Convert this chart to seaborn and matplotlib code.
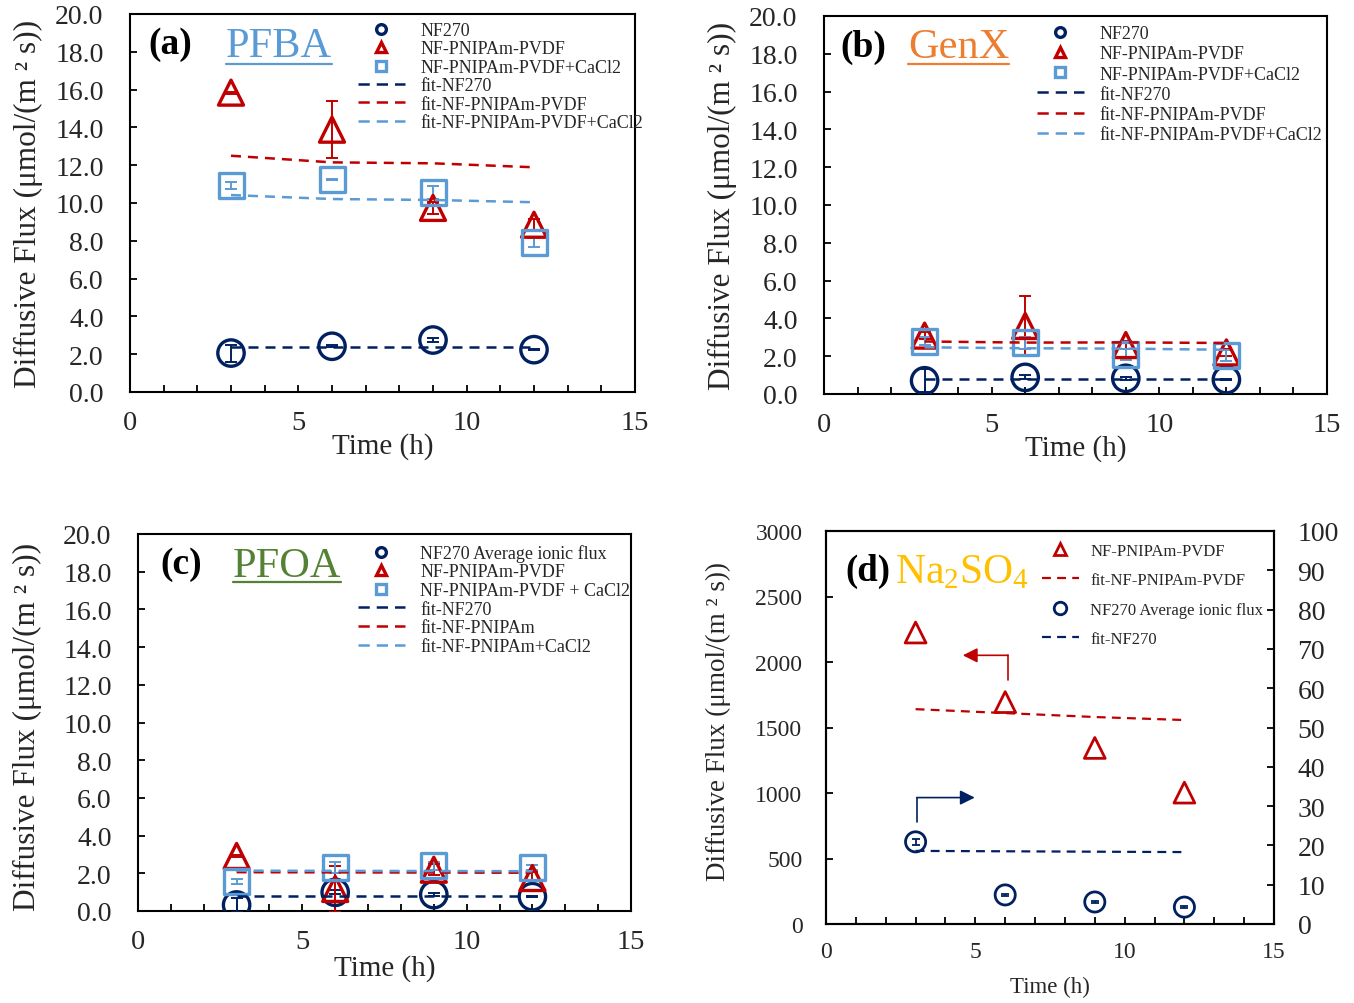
import numpy as np
import pandas as pd
import matplotlib
matplotlib.use("Agg")
import matplotlib.pyplot as plt
import seaborn as sns
from matplotlib.lines import Line2D
from matplotlib.ticker import MultipleLocator, FormatStrFormatter

sns.set_theme(style="white")
plt.rcParams["font.family"] = ["Liberation Serif", "DejaVu Serif"]
plt.rcParams["mathtext.fontset"] = "custom"
plt.rcParams["mathtext.rm"] = "Liberation Serif"
plt.rcParams["mathtext.it"] = "Liberation Serif:italic"
plt.rcParams["mathtext.bf"] = "Liberation Serif:bold"

# ---------------- data ----------------
time = [3, 6, 9, 12]

a_nf270 = [2.06, 2.42, 2.75, 2.24]
a_nf270_err = [0.45, 0.05, 0.10, 0.03]
a_pni = [15.84, 13.88, 9.74, 8.85]
a_pni_err = [0.05, 1.52, 0.30, 0.30]
a_ca = [10.92, 11.23, 10.56, 7.90]
a_ca_err = [0.18, 0.03, 0.35, 0.25]
a_fit_nf270 = [2.36, 2.36, 2.36, 2.36]
a_fit_pni = [12.50, 12.15, 12.10, 11.89]
a_fit_ca = [10.42, 10.21, 10.16, 10.04]

b_nf270 = [0.70, 0.88, 0.83, 0.76]
b_nf270_err = [0.60, 0.10, 0.08, 0.03]
b_pni = [3.09, 3.60, 2.59, 2.20]
b_pni_err = [0.20, 1.57, 0.20, 0.20]
b_ca = [2.79, 2.70, 2.10, 2.03]
b_ca_err = [0.20, 0.30, 0.30, 0.30]
b_fit_nf270 = [0.79, 0.79, 0.79, 0.79]
b_fit_pni = [2.78, 2.72, 2.73, 2.70]
b_fit_ca = [2.47, 2.42, 2.40, 2.34]

c_nf270 = [0.32, 0.99, 0.87, 0.76]
c_nf270_err = [0.35, 0.10, 0.08, 0.03]
c_pni = [2.92, 1.17, 2.19, 1.75]
c_pni_err = [0.05, 1.20, 0.30, 0.30]
c_ca = [1.56, 2.30, 2.39, 2.30]
c_ca_err = [0.15, 0.30, 0.20, 0.15]
c_fit_nf270 = [0.81, 0.81, 0.81, 0.81]
c_fit_pni = [2.06, 2.05, 2.04, 2.03]
c_fit_ca = [2.14, 2.13, 2.12, 2.11]

d_pni = [2225, 1694, 1344, 1003]
d_fit_pni = [1640, 1610, 1580, 1557]
d_nf270 = [20.9, 7.4, 5.6, 4.3]
d_nf270_err = [0.8, 0.3, 0.3, 0.3]
d_fit_nf270 = [18.6, 18.5, 18.4, 18.3]

labels_ab = ["NF270", "NF-PNIPAm-PVDF", "NF-PNIPAm-PVDF+CaCl2",
             "fit-NF270", "fit-NF-PNIPAm-PVDF", "fit-NF-PNIPAm-PVDF+CaCl2"]
labels_c = ["NF270 Average ionic flux", "NF-PNIPAm-PVDF", "NF-PNIPAm-PVDF + CaCl2",
            "fit-NF270", "fit-NF-PNIPAm", "fit-NF-PNIPAm+CaCl2"]
labels_d = ["NF-PNIPAm-PVDF", "fit-NF-PNIPAm-PVDF", "NF270 Average ionic flux", "fit-NF270"]

xticks = [0, 5, 10, 15]
yticks_abc = [0, 2, 4, 6, 8, 10, 12, 14, 16, 18, 20]
yticks_d_left = [0, 500, 1000, 1500, 2000, 2500, 3000]
yticks_d_right = [0, 10, 20, 30, 40, 50, 60, 70, 80, 90, 100]

NAVY = "#002060"
RED = "#C00000"
LBLUE = "#5B9BD5"

W, H = 1354, 1004
fig = plt.figure(figsize=(W / 100, H / 100), dpi=100)


def rect(l, r, t, b):
    return [l / W, 1 - b / H, (r - l) / W, (b - t) / H]


FIT_DASH = (0, (4, 2.8))
LEG_DASH = (0, (4.5, 2.8))


def style_axes(ax, xpad, ypad, xfs, yfs):
    ax.set_xlim(0, 15)
    ax.set_xticks(xticks)
    ax.xaxis.set_minor_locator(MultipleLocator(1))
    ax.tick_params(axis="both", which="both", direction="in", length=5, width=1.3,
                   color="black", bottom=True, left=True, top=False, right=False)
    ax.tick_params(axis="x", which="major", pad=xpad, labelsize=xfs)
    ax.tick_params(axis="y", which="major", pad=ypad, labelsize=yfs)
    for s in ax.spines.values():
        s.set_color("black")
        s.set_linewidth(1.5)
    ax.grid(False)


def panel(ax, nf, nfe, pni, pnie, ca, cae, fnf, fpni, fca, labels, leg_left, leg_top, lspace):
    series = [(nf, nfe, "o", NAVY, 19), (pni, pnie, "^", RED, 18), (ca, cae, "s", LBLUE, 18)]
    for vals, err, mk, col, ms in series:
        ax.errorbar(time, vals, yerr=err, fmt="none", ecolor=col, elinewidth=1.4,
                    capsize=4, capthick=1.4, zorder=3)
        df = pd.DataFrame({"t": time, "v": vals})
        sns.scatterplot(data=df, x="t", y="v", marker=mk, s=ms ** 2, facecolor="none",
                        edgecolor=col, linewidth=2.4, ax=ax, zorder=4, legend=False)
    for vals, col in [(fnf, NAVY), (fpni, RED), (fca, LBLUE)]:
        df = pd.DataFrame({"t": time, "v": vals})
        sns.lineplot(data=df, x="t", y="v", color=col, linewidth=1.8, linestyle=FIT_DASH,
                     ax=ax, zorder=5)
    ax.set_ylim(0, 20)
    ax.set_yticks(yticks_abc)
    ax.yaxis.set_major_formatter(FormatStrFormatter("%.1f"))
    style_axes(ax, 13, 19, 20.5, 20)
    ax.set_xlabel("Time (h)", fontsize=21)
    ax.set_ylabel("Diffusive Flux (μmol/(m ² s))", fontsize=22.5)
    handles = [
        Line2D([], [], ls="none", marker="o", ms=7, mfc="none", mec=NAVY, mew=2.4),
        Line2D([], [], ls="none", marker="^", ms=7, mfc="none", mec=RED, mew=2.4),
        Line2D([], [], ls="none", marker="s", ms=7, mfc="none", mec=LBLUE, mew=2.4),
        Line2D([], [], color=NAVY, lw=1.8, ls=LEG_DASH),
        Line2D([], [], color=RED, lw=1.8, ls=LEG_DASH),
        Line2D([], [], color=LBLUE, lw=1.8, ls=LEG_DASH),
    ]
    ax.legend(handles, labels, loc="upper left", bbox_to_anchor=(leg_left / W, 1 - leg_top / H),
              bbox_transform=fig.transFigure, frameon=False, fontsize=13, borderpad=0,
              borderaxespad=0, handlelength=2.6, handletextpad=0.85, labelspacing=lspace)


# ---- (a)
ax_a = fig.add_axes(rect(130, 635, 15, 393))
panel(ax_a, a_nf270, a_nf270_err, a_pni, a_pni_err, a_ca, a_ca_err,
      a_fit_nf270, a_fit_pni, a_fit_ca, labels_ab, 358, 23, 0.08)
ax_a.xaxis.set_label_coords(0.5, -0.106)
ax_a.yaxis.set_label_coords(-0.172, 0.5)

# ---- (b)
ax_b = fig.add_axes(rect(824, 1327, 17, 395))
panel(ax_b, b_nf270, b_nf270_err, b_pni, b_pni_err, b_ca, b_ca_err,
      b_fit_nf270, b_fit_pni, b_fit_ca, labels_ab, 1037, 26, 0.18)
ax_b.xaxis.set_label_coords(0.5, -0.106)
ax_b.yaxis.set_label_coords(-0.173, 0.5)

# ---- (c)
ax_c = fig.add_axes(rect(138, 631, 535, 912))
panel(ax_c, c_nf270, c_nf270_err, c_pni, c_pni_err, c_ca, c_ca_err,
      c_fit_nf270, c_fit_pni, c_fit_ca, labels_c, 358, 545, 0.09)
ax_c.xaxis.set_label_coords(0.5, -0.114)
ax_c.yaxis.set_label_coords(-0.195, 0.49)

# ---- (d)
ax_d = fig.add_axes(rect(826, 1274, 532, 925))
ax_d2 = ax_d.twinx()
df = pd.DataFrame({"t": time, "v": d_pni})
sns.scatterplot(data=df, x="t", y="v", marker="^", s=15 ** 2, facecolor="none",
                edgecolor=RED, linewidth=2.0, ax=ax_d, zorder=4, legend=False)
df = pd.DataFrame({"t": time, "v": d_fit_pni})
sns.lineplot(data=df, x="t", y="v", color=RED, linewidth=1.6, linestyle=FIT_DASH, ax=ax_d)
ax_d2.errorbar(time, d_nf270, yerr=d_nf270_err, fmt="none", ecolor=NAVY, elinewidth=1.3,
               capsize=3, capthick=1.3, zorder=3)
df = pd.DataFrame({"t": time, "v": d_nf270})
sns.scatterplot(data=df, x="t", y="v", marker="o", s=14.5 ** 2, facecolor="none",
                edgecolor=NAVY, linewidth=2.0, ax=ax_d2, zorder=4, legend=False)
df = pd.DataFrame({"t": time, "v": d_fit_nf270})
sns.lineplot(data=df, x="t", y="v", color=NAVY, linewidth=1.6, linestyle=FIT_DASH, ax=ax_d2)

ax_d.set_ylim(0, 3000)
ax_d.set_yticks(yticks_d_left)
ax_d2.set_ylim(0, 100)
ax_d2.set_yticks(yticks_d_right)
style_axes(ax_d, 12, 17, 17, 17)
ax_d2.tick_params(axis="y", which="both", direction="in", length=5, width=1.3,
                  right=True, left=False, pad=17, labelsize=20, color="black")
ax_d2.set_ylabel("")
ax_d2.grid(False)
for s in ax_d2.spines.values():
    s.set_color("black")
    s.set_linewidth(1.5)
ax_d.set_xlabel("Time (h)", fontsize=16.5)
ax_d.set_ylabel("Diffusive Flux (μmol/(m ² s))", fontsize=19.5)
ax_d.xaxis.set_label_coords(0.5, -0.132)
ax_d.yaxis.set_label_coords(-0.212, 0.517)

# arrows in (d)
red_arrow = [(6.09, 1861), (6.09, 2051), (4.58, 2051)]
blue_arrow = [(3.04, 775), (3.04, 965), (4.98, 965)]
for pts, col in [(red_arrow, RED), (blue_arrow, NAVY)]:
    ax_d.plot([pts[0][0], pts[1][0]], [pts[0][1], pts[1][1]], color=col, lw=1.2)
    ax_d.annotate("", xy=pts[2], xytext=pts[1],
                  arrowprops=dict(arrowstyle="-|>", color=col, lw=1.2, mutation_scale=22,
                                  shrinkA=0, shrinkB=0))

handles_d = [
    Line2D([], [], ls="none", marker="^", ms=9, mfc="none", mec=RED, mew=2.0),
    Line2D([], [], color=RED, lw=1.6, ls=FIT_DASH),
    Line2D([], [], ls="none", marker="o", ms=9, mfc="none", mec=NAVY, mew=2.0),
    Line2D([], [], color=NAVY, lw=1.6, ls=FIT_DASH),
]
ax_d2.legend(handles_d, labels_d, loc="upper left", bbox_to_anchor=(1042 / W, 1 - 544 / H),
             bbox_transform=fig.transFigure, frameon=False, fontsize=12, borderpad=0,
             borderaxespad=0, handlelength=2.2, handletextpad=0.7, labelspacing=0.8)

# ---- panel titles
titles = [
    ("(a)", 148, 45, 27, "black", True, None),
    ("PFBA", 226, 47, 30.5, LBLUE, False, 65),
    ("(b)", 840, 47, 27, "black", True, None),
    ("GenX", 908, 48, 30.5, "#ED7D31", False, 65),
    ("(c)", 160, 565, 27, "black", True, None),
    ("PFOA", 233, 567, 30.5, "#548235", False, 583),
    ("(d)", 845, 571, 26.5, "black", True, None),
    (r"Na$_2$SO$_4$", 895, 573, 30, "#FFC000", False, None),
]
texts = []
for s, x, y, fs, col, bold, ul in titles:
    t = fig.text(x / W, 1 - y / H, s, ha="left", va="center", fontsize=fs, color=col,
                 fontweight="bold" if bold else "normal")
    texts.append((t, ul, col))

fig.canvas.draw()
r = fig.canvas.get_renderer()
for t, ul, col in texts:
    if ul is not None:
        bb = t.get_window_extent(r)
        fig.add_artist(Line2D([bb.x0 / W, bb.x1 / W], [1 - ul / H, 1 - ul / H],
                              transform=fig.transFigure, color=col, lw=1.6))

fig.savefig("out.png", dpi=100)
